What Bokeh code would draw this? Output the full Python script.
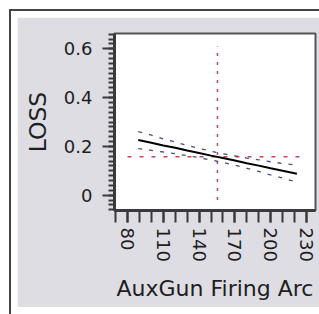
from bokeh.plotting import figure
from bokeh.models import Range1d, FixedTicker, ColumnDataSource, Spacer
from bokeh.layouts import column, row
from bokeh.embed import file_html
from bokeh.resources import INLINE

# ---- data ----
x_vals = [89, 100, 110, 120, 130, 140, 150, 160, 170, 180, 190, 200, 210, 222]
fit_vals = [0.226, 0.215, 0.204, 0.194, 0.183, 0.173, 0.162, 0.152, 0.142, 0.131, 0.121, 0.110, 0.100, 0.088]
upper_vals = [0.261, 0.246, 0.231, 0.218, 0.204, 0.192, 0.180, 0.170, 0.161, 0.152, 0.145, 0.137, 0.130, 0.123]
lower_vals = [0.191, 0.184, 0.177, 0.170, 0.162, 0.154, 0.144, 0.134, 0.123, 0.110, 0.097, 0.083, 0.070, 0.053]
mean_y = 0.157
mean_y_span = [80, 225]
mean_x = 155.4
mean_x_span = [-0.02, 0.61]
x_ticks = [80, 110, 140, 170, 200, 230]
x_minor = [70, 80, 90, 100, 110, 120, 130, 140, 150, 160, 170, 180, 190, 200, 210, 220, 230]
y_ticks = [0, 0.2, 0.4, 0.6]
y_tick_labels = {0: "0", 0.2: "0.2", 0.4: "0.4", 0.6: "0.6"}
y_minor = [-0.06, -0.04, -0.02, 0.0, 0.02, 0.04, 0.06, 0.08, 0.1, 0.12, 0.14, 0.16, 0.18, 0.2,
           0.22, 0.24, 0.26, 0.28, 0.3, 0.32, 0.34, 0.36, 0.38, 0.4, 0.42, 0.44, 0.46, 0.48,
           0.5, 0.52, 0.54, 0.56, 0.58, 0.6, 0.62, 0.64, 0.66]

FONT = "DejaVu Sans"
GRAY = "#dddde3"
TXT = "#1e1e1e"
W, H = 302, 290

p = figure(width=W, height=H, output_backend="svg", toolbar_location=None,
           x_range=Range1d(69.1, 237.6), y_range=Range1d(-0.063, 0.663),
           min_border_left=97, min_border_top=16, min_border_right=4, min_border_bottom=97)
p.border_fill_color = GRAY
p.background_fill_color = "white"
p.outline_line_color = "#555555"
p.outline_line_width = 2
p.grid.visible = False

src = ColumnDataSource(dict(x=x_vals, fit=fit_vals, up=upper_vals, lo=lower_vals))

# mean lines
p.line(mean_y_span, [mean_y, mean_y], line_color="#d0405a", line_width=1.5, line_dash="4 8")
p.line([mean_x, mean_x], mean_x_span, line_color="#d0405a", line_width=1.5, line_dash="3 6")
# confidence curves
p.line("x", "up", source=src, line_color="#4a5080", line_width=1.3, line_dash="4 7")
p.line("x", "lo", source=src, line_color="#4a5080", line_width=1.3, line_dash="4 7")
# fit
p.line("x", "fit", source=src, line_color="black", line_width=2)

xa = p.xaxis[0]
xa.ticker = FixedTicker(ticks=x_ticks, minor_ticks=x_minor)
xa.axis_label = "AuxGun Firing Arc"
xa.major_label_orientation = "vertical"
ya = p.yaxis[0]
ya.ticker = FixedTicker(ticks=y_ticks, minor_ticks=y_minor)
ya.major_label_overrides = y_tick_labels
ya.axis_label = "LOSS"

for ax in (xa, ya):
    ax.axis_line_color = "#3a3a3a"
    ax.axis_line_width = 3
    ax.major_tick_line_color = "#3a3a3a"
    ax.minor_tick_line_color = "#3a3a3a"
    ax.major_tick_line_width = 2
    ax.minor_tick_line_width = 2
    ax.major_tick_in = 0
    ax.minor_tick_in = 0
    ax.major_label_text_font = FONT
    ax.major_label_text_font_size = "18px"
    ax.major_label_text_color = TXT
    ax.axis_label_text_font = FONT
    ax.axis_label_text_font_style = "normal"
    ax.axis_label_text_color = TXT

xa.axis_label_text_font_size = "22px"
ya.axis_label_text_font_size = "23.5px"
xa.major_tick_out = 12
xa.minor_tick_out = 12
xa.major_label_standoff = 5
xa.axis_label_standoff = 11
ya.major_tick_out = 12
ya.minor_tick_out = 6
ya.major_label_standoff = 10
ya.axis_label_standoff = 9

inner = row(Spacer(width=6, height=303),
            column(Spacer(width=W, height=6), p, Spacer(width=W, height=7)))
boxed = column(inner, styles={"border-left": "2px solid #444444", "border-top": "2px solid #444444",
                              "background-color": "white"})
layout = row(Spacer(width=9, height=314), column(Spacer(width=310, height=9), boxed))

open("out.html", "w").write(file_html(layout, INLINE))
